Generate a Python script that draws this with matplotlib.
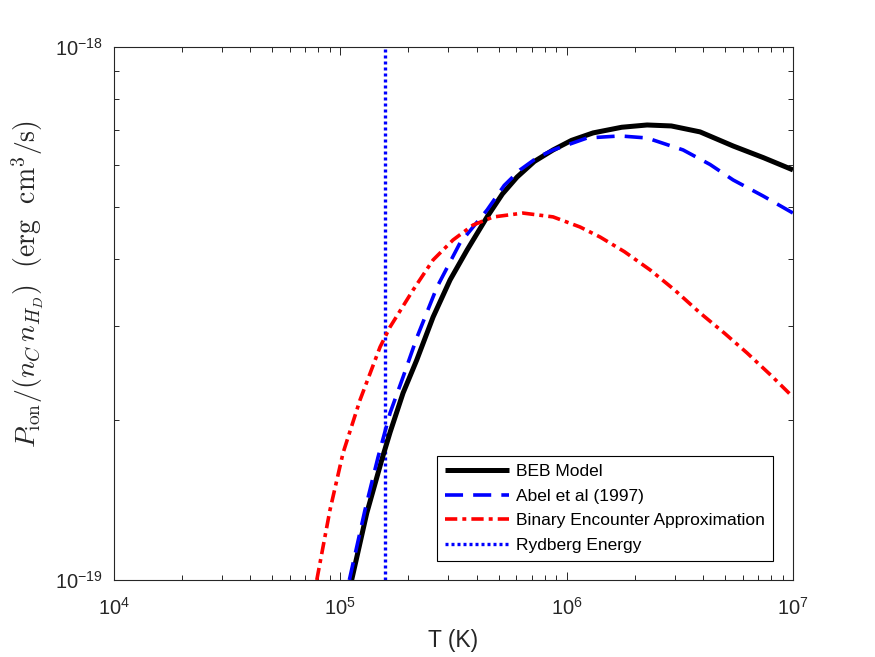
import numpy as np
import matplotlib
matplotlib.use("Agg")
import matplotlib.pyplot as plt

# ---- data ----
beb_T = [1.122e5, 1.309e5, 1.524e5, 1.659e5, 1.893e5, 2.176e5, 2.569e5, 3.053e5,
         3.631e5, 4.449e5, 5.2e5, 6.039e5, 7.2e5, 8.71e5, 1.05e6, 1.309e6, 1.75e6, 2.266e6, 2.9e6, 3.885e6, 5.44e6, 7.4e6, 1e7]
beb_P = [1.0e-19, 1.336e-19, 1.680e-19, 1.893e-19, 2.243e-19, 2.587e-19, 3.114e-19, 3.655e-19,
         4.160e-19, 4.798e-19, 5.30e-19, 5.702e-19, 6.10e-19, 6.41e-19, 6.68e-19, 6.90e-19, 7.07e-19, 7.14e-19, 7.11e-19, 6.93e-19, 6.52e-19, 6.20e-19, 5.88e-19]

abel_T = [1.096e5, 1.285e5, 1.468e5, 1.659e5, 1.893e5, 2.183e5, 2.675e5, 3.380e5,
          4.449e5, 5.3e5, 6.223e5, 7.4e5, 8.71e5, 1.231e6, 1.722e6, 2.266e6, 3.268e6, 4.3e6, 5.44e6, 7.4e6, 1e7]
abel_P = [1.0e-19, 1.353e-19, 1.701e-19, 2.058e-19, 2.403e-19, 2.857e-19, 3.546e-19, 4.29e-19,
          4.945e-19, 5.50e-19, 5.88e-19, 6.20e-19, 6.41e-19, 6.75e-19, 6.81e-19, 6.75e-19, 6.41e-19, 6.02e-19, 5.63e-19, 5.25e-19, 4.88e-19]

bea_T = [7.87e4, 9.0e4, 1.028e5, 1.222e5, 1.498e5, 1.658e5, 2.096e5, 2.569e5, 3.148e5,
         3.858e5, 4.729e5, 6.415e5, 8.71e5, 1.146e6, 1.405e6, 1.8e6, 2.337e6, 3.0e6, 3.885e6, 5.0e6, 6.27e6, 8.0e6, 1e7]
bea_P = [1.0e-19, 1.353e-19, 1.731e-19, 2.177e-19, 2.736e-19, 2.983e-19, 3.50e-19, 3.985e-19, 4.345e-19,
         4.634e-19, 4.798e-19, 4.88e-19, 4.80e-19, 4.595e-19, 4.40e-19, 4.13e-19, 3.817e-19, 3.50e-19, 3.17e-19, 2.90e-19, 2.666e-19, 2.42e-19, 2.204e-19]

rydberg_T = [1.578e5, 1.578e5]
rydberg_P = [1e-19, 1e-18]

labels = ["BEB Model", "Abel et al (1997)", "Binary Encounter Approximation", "Rydberg Energy"]
xticks = [1e4, 1e5, 1e6, 1e7]
yticks = [1e-19, 1e-18]

# ---- style ----
plt.rcParams['font.family'] = ['Liberation Sans', 'DejaVu Sans']
plt.rcParams['mathtext.fontset'] = 'cm'
axc = (0.15, 0.15, 0.15)

W, H = 875, 657
fig = plt.figure(figsize=(W / 100, H / 100), dpi=100)
ax = fig.add_axes([114 / W, 1 - 580 / H, (793 - 114) / W, (580 - 47) / H])

ax.plot(beb_T, beb_P, color='black', lw=3.6, solid_capstyle='butt', solid_joinstyle='round',
        label=labels[0], zorder=3)
ax.plot(abel_T, abel_P, color='blue', lw=2.6, linestyle=(0, (5.0, 2.8)), dash_capstyle='butt',
        label=labels[1], zorder=4)
ax.plot(bea_T, bea_P, color='red', lw=2.6, linestyle=(0, (3.4, 1.4, 1.1, 1.4)), dash_capstyle='butt',
        label=labels[2], zorder=4)
ax.plot(rydberg_T, rydberg_P, color='blue', lw=2.4, linestyle=(0, (0.9, 0.9)), dash_capstyle='butt',
        label=labels[3], zorder=2)

ax.set_xscale('log')
ax.set_yscale('log')
ax.set_xlim(1e4, 1e7)
ax.set_ylim(1e-19, 1e-18)
ax.set_xticks(xticks)
ax.set_xticklabels([r'$\mathdefault{10^{4}}$', r'$\mathdefault{10^{5}}$',
                    r'$\mathdefault{10^{6}}$', r'$\mathdefault{10^{7}}$'])
ax.set_yticks(yticks)
ax.set_yticklabels([r'$\mathdefault{10^{-19}}$', r'$\mathdefault{10^{-18}}$'])

for s in ax.spines.values():
    s.set_color(axc)
    s.set_linewidth(0.8)
ax.tick_params(which='both', direction='in', top=True, right=True, colors=axc, width=0.7)
ax.tick_params(which='major', length=5.5, labelsize=14.5)
ax.tick_params(axis='x', which='major', pad=12)
ax.tick_params(axis='y', which='major', pad=8)
ax.tick_params(which='minor', length=3.5)
ax.tick_params(axis='y', which='minor', labelleft=False)
ax.tick_params(axis='x', which='minor', labelbottom=False)

ax.set_xlabel('T (K)', fontsize=16.5, color=axc)
ax.xaxis.set_label_coords(0.5, (580 - 629) / 533)
ax.set_ylabel(r'$P_{\rm ion}/(n_C\, n_{H_D})\ \ ({\rm erg\ \ cm}^3/{\rm s})$', fontsize=20, color=axc)
ax.yaxis.set_label_coords((46 - 114) / 679, (580 - 284) / 533)

leg = ax.legend(loc='lower right', bbox_to_anchor=((773 - 114) / (793 - 114), (580 - 561) / (580 - 47)),
                borderaxespad=0, fontsize=12.5, handlelength=3.7, handletextpad=0.4,
                labelspacing=0.55, borderpad=0.45, fancybox=False, framealpha=1, edgecolor='black')
leg.get_frame().set_linewidth(0.8)

fig.savefig('out.png', dpi=100)
